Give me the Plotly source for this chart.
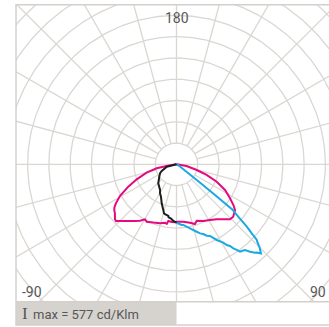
import numpy as np
import plotly.graph_objects as go

# Photometric data, luminous intensity in cd/klm against gamma angle (deg)
# 0 = straight down, +90 = right, -90 = left
c0_angles = [-90, -80.2, -78.6, -74.3, -69.3, -65.1, -60.7, -57.2, -55.3, -53.7, -51.5,
             -48.2, -46.9, -41.3, -36.5, -32.9, -29.8, -27.4, -21.7, -15.6, -11.1, -9.3,
             -8.2, -4.8, -1.5, 0.2, 6.8, 13, 17.2, 19.7, 25.3, 31, 36.2, 40.4, 44.2, 47.3,
             52, 54.4, 57.6, 62.1, 66.6, 70.5, 74.2, 80.5, 90]
c0_values = [0, 47, 95, 146, 200, 250, 305, 339, 355, 363, 370,
             388, 390, 355, 332, 316, 298, 304, 295, 288, 280, 284,
             269, 272, 273, 270, 272, 282, 294, 282, 295, 306, 320, 339, 361, 363,
             349, 329, 298, 258, 206, 150, 99, 48, 0]

c90_angles = [0, 4.9, 6.4, 11.9, 16.7, 18.8, 21, 23, 25, 28, 30.8, 31.9, 33.2, 34.1, 35.1,
              36, 36.9, 38.6, 40.1, 41.6, 42.3, 43.5, 44.5, 44.8, 46.2, 46.7, 47.5, 48.4,
              49.9, 51, 51.5, 52, 53, 60, 90]
c90_values = [275, 286, 287, 308, 331, 343, 351, 365, 372, 403, 429, 447, 459, 477, 492,
              508, 510, 516, 537, 556, 560, 577, 560, 557, 526, 519, 480, 442,
              370, 339, 235, 141, 66, 14, 0]

c270_angles = [-90, -76.2, -65.6, -61.4, -54.2, -43.8, -32.7, -29.6, -25.6, -20.8, -16.1,
               -14.3, -13, -9, -8.5, -6.1, -3.2, -0.5, 0]
c270_values = [0, 47, 76, 88, 100, 124, 143, 157, 169, 196, 224,
               238, 240, 246, 252, 255, 267, 273, 275]

ring_step = 100          # cd/klm between grid circles
spoke_step = 15          # degrees between grid spokes
corner_labels = ["180", "-90", "90"]
imax_text = "max = 577 cd/Klm"

# page geometry (px)
W, H = 329, 327
CX, CY = 176.5, 164.3          # pole position
PX = 21.27 / ring_step         # px per cd/klm
LEFT, TOP, GRID_BOTTOM, BOTTOM = 16, 4.7, 301.7, 325
GRID = "#dad7d3"
TEXT = "#575757"

fig = go.Figure()

# --- polar grid, drawn on a cartesian plane clipped to the frame ---
gx, gy = [], []
t = np.linspace(0, 2 * np.pi, 361)
for k in range(1, 13):
    r = k * ring_step
    gx += list(r * np.cos(t)) + [None]
    gy += list(r * np.sin(t)) + [None]
for a in range(0, 360, spoke_step):
    rad = np.radians(a)
    r0 = 0 if a % 180 == 90 else ring_step
    gx += [r0 * np.sin(rad), 1300 * np.sin(rad), None]
    gy += [-r0 * np.cos(rad), -1300 * np.cos(rad), None]
fig.add_trace(go.Scatter(x=gx, y=gy, mode="lines", line=dict(color=GRID, width=1.3),
                         hoverinfo="skip", showlegend=False, xaxis="x", yaxis="y"))

fig.update_layout(
    xaxis=dict(domain=[LEFT / W, 1], range=[(LEFT - CX) / PX, (W - CX) / PX],
               visible=False, fixedrange=True),
    yaxis=dict(domain=[1 - GRID_BOTTOM / H, 1 - TOP / H],
               range=[-(GRID_BOTTOM - CY) / PX, (CY - TOP) / PX],
               visible=False, fixedrange=True),
)

# --- intensity curves on a polar subplot centred on the same pole ---
R = 150
fig.add_trace(go.Scatterpolar(r=c0_values, theta=c0_angles, mode="lines",
                              line=dict(color="#e5097f", width=2), showlegend=False))
fig.add_trace(go.Scatterpolar(r=c90_values, theta=c90_angles, mode="lines",
                              line=dict(color="#1ba8e3", width=2), showlegend=False))
fig.add_trace(go.Scatterpolar(r=c270_values, theta=c270_angles, mode="lines",
                              line=dict(color="#1e1e1e", width=2), showlegend=False))
fig.update_layout(
    polar=dict(
        domain=dict(x=[(CX - R) / W, (CX + R) / W],
                    y=[(H - CY - R) / H, (H - CY + R) / H]),
        bgcolor="rgba(0,0,0,0)",
        radialaxis=dict(range=[0, R / PX], visible=False),
        angularaxis=dict(rotation=-90, direction="counterclockwise", visible=False),
    )
)

# --- frame and the I max box ---
shapes = [
    dict(type="rect", xref="paper", yref="paper", x0=LEFT / W, x1=176.5 / W,
         y0=1 - BOTTOM / H, y1=1 - GRID_BOTTOM / H, fillcolor="#d6d2ce",
         line=dict(width=0), layer="below"),
    dict(type="rect", xref="paper", yref="paper", x0=LEFT / W, x1=337 / W,
         y0=1 - BOTTOM / H, y1=1 - TOP / H, fillcolor="rgba(0,0,0,0)",
         line=dict(color="#d3d0cc", width=1.5)),
    dict(type="line", xref="paper", yref="paper", x0=LEFT / W, x1=337 / W,
         y0=1 - GRID_BOTTOM / H, y1=1 - GRID_BOTTOM / H,
         line=dict(color="#d3d0cc", width=1.5)),
]

ann = [
    dict(text=corner_labels[0], x=CX / W, y=1 - 18 / H, xanchor="center", yanchor="middle",
         font=dict(size=14, color=TEXT, family="Roboto")),
    dict(text=corner_labels[1], x=20 / W, y=1 - 292 / H, xanchor="left", yanchor="middle",
         font=dict(size=14, color=TEXT, family="Roboto")),
    dict(text=corner_labels[2], x=328 / W, y=1 - 292 / H, xanchor="right", yanchor="middle",
         font=dict(size=14, color=TEXT, family="Roboto")),
    dict(text="I", x=20 / W, y=1 - 313.5 / H, xanchor="left", yanchor="middle",
         font=dict(size=17, color=TEXT, family="Liberation Serif")),
    dict(text=imax_text, x=30.5 / W, y=1 - 314 / H, xanchor="left", yanchor="middle",
         font=dict(size=13, color=TEXT, family="Roboto")),
]
for a in ann:
    a.update(xref="paper", yref="paper", showarrow=False)

fig.update_layout(
    width=W, height=H, autosize=False,
    margin=dict(l=0, r=0, t=0, b=0, pad=0),
    paper_bgcolor="white", plot_bgcolor="white",
    shapes=shapes, annotations=ann, showlegend=False,
)

fig.write_html("out.html", config=dict(displayModeBar=False))
